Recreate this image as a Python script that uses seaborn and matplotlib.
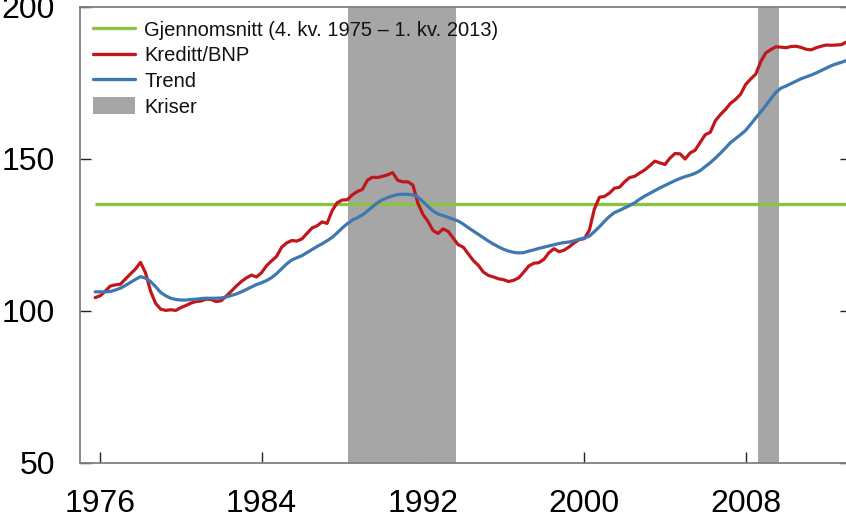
"""Kreditt/BNP med trend, gjennomsnitt og kriseperioder."""
import numpy as np
import pandas as pd
import matplotlib
matplotlib.use("Agg")
import matplotlib.pyplot as plt
import seaborn as sns
from matplotlib.lines import Line2D
from matplotlib.patches import Patch

# quarterly observations 1975Q4 - 2013Q1
quarters = pd.period_range("1975Q4", "2013Q1", freq="Q")

kreditt_bnp = [
    104.4, 105.0, 106.5, 108.2, 108.6, 108.8, 110.5, 112.2, 113.8, 116.0,
    112.5, 106.5, 102.5, 100.6, 100.2, 100.4, 100.2, 101.1, 101.8, 102.6,
    103.1, 103.3, 103.9, 103.8, 103.1, 103.4, 104.9, 106.5, 108.2, 109.7,
    110.9, 111.8, 111.2, 112.6, 114.9, 116.5, 118.0, 121.0, 122.4, 123.2,
    123.0, 123.7, 125.5, 127.3, 128.0, 129.3, 128.8, 133.0, 135.6, 136.5,
    136.6, 138.2, 139.3, 140.0, 143.0, 144.0, 143.9, 144.3, 144.8, 145.5,
    143.0, 142.5, 142.5, 141.5, 135.5, 131.8, 129.5, 126.5, 125.5, 127.0,
    126.2, 124.0, 121.8, 121.0, 118.8, 116.6, 115.0, 112.8, 111.7, 111.2,
    110.6, 110.3, 109.7, 110.1, 110.9, 112.8, 114.8, 115.7, 115.9, 117.0,
    119.2, 120.5, 119.5, 120.0, 121.1, 122.4, 123.5, 123.8, 126.5, 133.5,
    137.4, 137.7, 138.8, 140.4, 140.7, 142.5, 143.9, 144.3, 145.4, 146.4,
    147.8, 149.3, 148.7, 148.2, 150.3, 151.8, 151.7, 150.0, 152.0, 152.9,
    155.5, 158.0, 158.8, 162.6, 164.6, 166.3, 168.3, 169.6, 171.3, 174.5,
    176.3, 177.9, 182.0, 184.9, 186.0, 186.9, 186.8, 186.6, 187.0, 187.1,
    186.7, 186.1, 185.9, 186.6, 187.1, 187.5, 187.4, 187.5, 187.6, 188.5,
]

trend = [
    106.3, 106.3, 106.3, 106.4, 106.9, 107.5, 108.4, 109.4, 110.4, 111.3,
    110.8, 109.7, 108.0, 106.1, 105.0, 104.2, 103.8, 103.6, 103.6, 103.8,
    103.9, 104.1, 104.2, 104.2, 104.2, 104.3, 104.6, 105.1, 105.6, 106.3,
    107.1, 107.9, 108.7, 109.3, 110.0, 111.0, 112.3, 113.9, 115.5, 116.8,
    117.5, 118.2, 119.2, 120.2, 121.2, 122.1, 123.1, 124.2, 125.7, 127.3,
    128.7, 129.9, 130.7, 131.6, 132.9, 134.3, 135.6, 136.6, 137.3, 137.9,
    138.3, 138.4, 138.4, 138.2, 137.5, 136.0, 134.4, 132.9, 131.9, 131.4,
    130.8, 130.2, 129.6, 128.6, 127.4, 126.3, 125.2, 124.1, 123.0, 122.0,
    121.1, 120.3, 119.7, 119.3, 119.1, 119.2, 119.7, 120.1, 120.6, 121.0,
    121.4, 121.8, 122.2, 122.5, 122.7, 123.1, 123.6, 124.0, 124.6, 126.1,
    127.7, 129.5, 131.1, 132.4, 133.1, 133.9, 134.7, 135.6, 136.8, 137.8,
    138.7, 139.6, 140.5, 141.3, 142.1, 142.9, 143.6, 144.2, 144.7, 145.3,
    146.2, 147.5, 148.8, 150.3, 151.9, 153.6, 155.4, 156.7, 158.0, 159.4,
    161.4, 163.5, 165.5, 167.6, 169.8, 171.9, 173.3, 174.0, 174.8, 175.6,
    176.4, 177.0, 177.6, 178.3, 179.1, 179.9, 180.7, 181.3, 181.8, 182.4,
]

gjennomsnitt = 135.3

# crisis periods (decimal years)
krise_start = [1988.3, 2008.6]
krise_slutt = [1993.64, 2009.65]

year_ticks = [1976, 1984, 1992, 2000, 2008]
y_ticks = [50, 100, 150, 200]

GREEN = "#8cc23f"
RED = "#c0171c"
BLUE = "#3f78b0"
GREY = "#a6a6a6"

df = pd.DataFrame({
    "aar": quarters.year + (quarters.quarter - 1) / 4,
    "Kreditt/BNP": kreditt_bnp,
    "Trend": trend,
})

sns.set_style("white")
plt.rcParams["font.family"] = ["Liberation Sans", "DejaVu Sans"]

fig = plt.figure(figsize=(8.46, 5.2), dpi=100)
ax = fig.add_axes([80 / 846, 57 / 520, 771 / 846, 456 / 520])

for s, e in zip(krise_start, krise_slutt):
    ax.axvspan(s, e, color=GREY, lw=0, zorder=1)

ax.hlines(gjennomsnitt, df["aar"].iloc[0], df["aar"].iloc[-1],
          color=GREEN, lw=2.4, zorder=2)
sns.lineplot(data=df, x="aar", y="Kreditt/BNP", color=RED, lw=2.3, ax=ax, zorder=3)
sns.lineplot(data=df, x="aar", y="Trend", color=BLUE, lw=2.3, ax=ax, zorder=4)

ax.set_xlim(1975.0, 1975.0 + 771 / 20.17)
ax.set_ylim(50, 200)
ax.set_xticks(year_ticks)
ax.set_yticks(y_ticks)
ax.set_xlabel("")
ax.set_ylabel("")

for side in ["left", "bottom", "top", "right"]:
    ax.spines[side].set_color("#808080")
    ax.spines[side].set_linewidth(1.3)

ax.tick_params(axis="x", direction="in", length=8, width=1, color="#222222",
               labelsize=23, pad=19, labelcolor="black", bottom=True)
ax.tick_params(axis="y", direction="in", length=8, width=1, color="#222222",
               labelsize=23, pad=18, labelcolor="black", left=True, right=True)

handles = [
    Line2D([], [], color=GREEN, lw=2.4),
    Line2D([], [], color=RED, lw=2.4),
    Line2D([], [], color=BLUE, lw=2.4),
    Patch(facecolor=GREY, edgecolor="none"),
]
labels = ["Gjennomsnitt (4. kv. 1975 \u2013 1. kv. 2013)", "Kreditt/BNP", "Trend", "Kriser"]
leg = ax.legend(handles, labels, loc="upper left", bbox_to_anchor=(0.0, 1.0),
                frameon=False, fontsize=14.5, handlelength=2.1, handleheight=0.95,
                handletextpad=0.45, labelspacing=0.3, borderaxespad=0.25)
for t in leg.get_texts():
    t.set_color("#111111")

fig.savefig("out.png", dpi=100)
plt.close(fig)
